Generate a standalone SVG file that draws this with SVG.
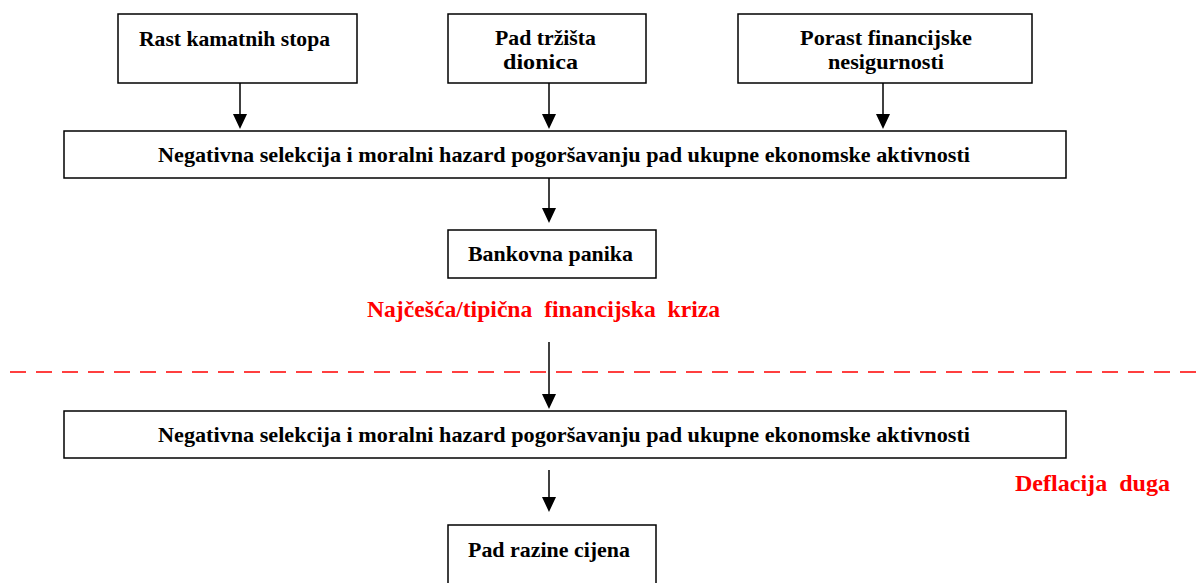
<svg xmlns="http://www.w3.org/2000/svg" width="1199" height="583" viewBox="0 0 1199 583">
<style>
.box{fill:#fff;stroke:#000;stroke-width:1.5}
.t{font-family:"Liberation Serif","Times New Roman",serif;font-weight:bold;font-size:21px;fill:#000}
.r{font-family:"Liberation Serif","Times New Roman",serif;font-weight:bold;font-size:23px;fill:#ff0000;white-space:pre}
.ln{stroke:#000;stroke-width:1.5}
</style>
<rect width="1199" height="583" fill="#fff"/>
<g id="connectors">
<line class="ln" x1="240" y1="83" x2="240" y2="118"/>
<path d="M233,114 L247,114 L240,129 Z"/>
<line class="ln" x1="549" y1="83" x2="549" y2="118"/>
<path d="M542,114 L556,114 L549,129 Z"/>
<line class="ln" x1="883" y1="83" x2="883" y2="118"/>
<path d="M876,114 L890,114 L883,129 Z"/>
<line class="ln" x1="549" y1="178" x2="549" y2="212"/>
<path d="M542,208 L556,208 L549,223 Z"/>
<line class="ln" x1="549" y1="342" x2="549" y2="398"/>
<path d="M542,394 L556,394 L549,409 Z"/>
<line class="ln" x1="549" y1="470" x2="549" y2="501"/>
<path d="M542,497 L556,497 L549,512 Z"/>
<line x1="10" y1="372" x2="1199" y2="372" stroke="#ff0000" stroke-width="1.5" stroke-dasharray="16,10"/>
</g>
<g id="n1"><rect class="box" x="118" y="14" width="239" height="69"/><text class="t" x="139" y="46" textLength="191" lengthAdjust="spacingAndGlyphs">Rast kamatnih stopa</text></g>
<g id="n2"><rect class="box" x="448" y="14" width="198" height="69"/><text class="t" x="495" y="45" textLength="101" lengthAdjust="spacingAndGlyphs">Pad tržišta</text><text class="t" x="503" y="69" textLength="75" lengthAdjust="spacingAndGlyphs">dionica</text></g>
<g id="n3"><rect class="box" x="738" y="14" width="294" height="69"/><text class="t" x="800" y="45" textLength="172" lengthAdjust="spacingAndGlyphs">Porast financijske</text><text class="t" x="828" y="69" textLength="116" lengthAdjust="spacingAndGlyphs">nesigurnosti</text></g>
<g id="n4"><rect class="box" x="64" y="131" width="1002" height="47"/><text class="t" x="158" y="162" textLength="812" lengthAdjust="spacingAndGlyphs">Negativna selekcija i moralni hazard pogoršavanju pad ukupne ekonomske aktivnosti</text></g>
<g id="n5"><rect class="box" x="448" y="230" width="208" height="48"/><text class="t" x="468" y="261" textLength="165" lengthAdjust="spacingAndGlyphs">Bankovna panika</text></g>
<g id="l1"><text class="r" x="367" y="317" textLength="353" lengthAdjust="spacingAndGlyphs">Najčešća/tipična  financijska  kriza</text></g>
<g id="n6"><rect class="box" x="64" y="411" width="1002" height="47"/><text class="t" x="158" y="442" textLength="812" lengthAdjust="spacingAndGlyphs">Negativna selekcija i moralni hazard pogoršavanju pad ukupne ekonomske aktivnosti</text></g>
<g id="l2"><text class="r" x="1015" y="491" textLength="155" lengthAdjust="spacingAndGlyphs">Deflacija  duga</text></g>
<g id="n7"><rect class="box" x="448" y="525" width="208" height="70"/><text class="t" x="468" y="557" textLength="162" lengthAdjust="spacingAndGlyphs">Pad razine cijena</text></g>
</svg>
